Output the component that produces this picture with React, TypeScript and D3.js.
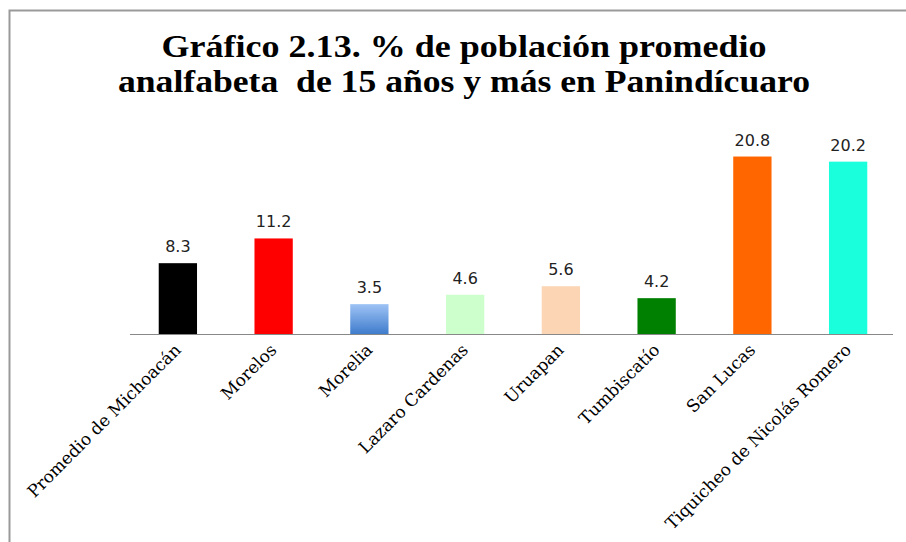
import React from "react";
import * as d3 from "d3";

const categories = [
  "Promedio de Michoacán",
  "Morelos",
  "Morelia",
  "Lazaro Cardenas",
  "Uruapan",
  "Tumbiscatío",
  "San Lucas",
  "Tiquicheo de Nicolás Romero",
];
const values = [8.3, 11.2, 3.5, 4.6, 5.6, 4.2, 20.8, 20.2];
const colors = ["#000000", "#ff0000", "url(#blueGrad)", "#ccffcc", "#fcd5b5", "#008000", "#ff6600", "#1affdc"];
const titleLines = ["Gráfico 2.13. % de población promedio", "analfabeta\u00a0 de 15 años y más en Panindícuaro"];
const titleWidths = [605, 692];

const W = 906;
const H = 542;

export default function App() {
  const x = d3.scaleBand<string>().domain(categories).range([130, 896]).paddingInner(0.6).paddingOuter(0.3);
  const y = d3.scaleLinear().domain([0, 25]).range([334, 120.7]);
  const base = y(0);
  return (
    <svg width={W} height={H} style={{ position: "absolute", left: 0, top: 0, background: "#fff" }}>
      <defs>
        <linearGradient id="blueGrad" x1="0" y1="0" x2="0" y2="1">
          <stop offset="0" stopColor="#9ec3f5" />
          <stop offset="1" stopColor="#3f7ccc" />
        </linearGradient>
      </defs>
      <rect x={0} y={0} width={W} height={H} fill="#fff" />
      <path d={`M9.5,${H} V10.5 H${W}`} fill="none" stroke="#9a9a9a" strokeWidth={2} />
      {titleLines.map((t, i) => (
        <text
          key={i}
          x={464}
          y={57 + i * 35}
          textAnchor="middle"
          fontFamily="'Liberation Serif', serif"
          fontWeight="bold"
          fontSize={31}
          textLength={titleWidths[i]}
          lengthAdjust="spacingAndGlyphs"
          fill="#000"
        >
          {t}
        </text>
      ))}
      {categories.map((c, i) => {
        const bx = x(c)!;
        const bw = x.bandwidth();
        const top = y(values[i]);
        return (
          <g key={c}>
            <rect x={bx} y={top} width={bw} height={base - top} fill={colors[i]} />
            <text
              x={bx + bw / 2}
              y={top - 11}
              textAnchor="middle"
              fontFamily="'DejaVu Sans', sans-serif"
              fontSize={16}
              fill="#222"
            >
              {d3.format(".1f")(values[i])}
            </text>
            <text
              transform={`translate(${bx + bw / 2 + 4},${base + 17}) rotate(-45)`}
              textAnchor="end"
              fontFamily="'DejaVu Serif', serif"
              fontSize={17}
              fill="#000"
            >
              {c}
            </text>
          </g>
        );
      })}
      <line x1={130} x2={893} y1={base + 0.5} y2={base + 0.5} stroke="#888" strokeWidth={1.2} />
    </svg>
  );
}
